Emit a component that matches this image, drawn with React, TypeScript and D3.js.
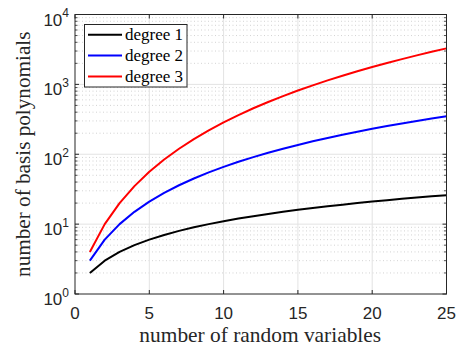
import React, { useEffect, useRef } from 'react';
import * as d3 from 'd3';

// values
const nVars = [1, 2, 3, 4, 5, 6, 7, 8, 9, 10, 11, 12, 13, 14, 15, 16, 17, 18, 19, 20, 21, 22, 23, 24, 25];
const degree1 = [2, 3, 4, 5, 6, 7, 8, 9, 10, 11, 12, 13, 14, 15, 16, 17, 18, 19, 20, 21, 22, 23, 24, 25, 26];
const degree2 = [3, 6, 10, 15, 21, 28, 36, 45, 55, 66, 78, 91, 105, 120, 136, 153, 171, 190, 210, 231, 253, 276, 300, 325, 351];
const degree3 = [4, 10, 20, 35, 56, 84, 120, 165, 220, 286, 364, 455, 560, 680, 816, 969, 1140, 1330, 1540, 1771, 2024, 2300, 2600, 2925, 3276];
const seriesNames = ['degree 1', 'degree 2', 'degree 3'];
const seriesColors = ['#000000', '#0000ff', '#ff0000'];
const xTicks = [0, 5, 10, 15, 20, 25];
const yExponents = [0, 1, 2, 3, 4];

const W = 456, H = 350;
const left = 75, right = 446.5, top = 14.5, bottom = 294;
const axisColor = '#262626';

function Chart() {
  const ref = useRef<SVGSVGElement>(null);

  useEffect(() => {
    const svg = d3.select(ref.current);
    svg.selectAll('*').remove();

    const x = d3.scaleLinear().domain([0, 25]).range([left, right]);
    const y = d3.scaleLog().domain([1, 1e4]).range([bottom, top]);

    // minor grid
    const minor: number[] = [];
    for (let e = 0; e < 4; e++) for (let k = 2; k <= 9; k++) minor.push(k * Math.pow(10, e));

    const g = svg.append('g');
    g.selectAll('.minor').data(minor).join('line')
      .attr('x1', left).attr('x2', right)
      .attr('y1', d => y(d)).attr('y2', d => y(d))
      .attr('stroke', '#c8c8c8').attr('stroke-width', 0.8)
      .attr('stroke-dasharray', '1,2.5');

    // major grid
    g.selectAll('.gx').data(xTicks.slice(1, -1)).join('line')
      .attr('x1', d => x(d)).attr('x2', d => x(d))
      .attr('y1', top).attr('y2', bottom)
      .attr('stroke', '#e3e3e3').attr('stroke-width', 1);
    g.selectAll('.gy').data(yExponents.slice(1, -1)).join('line')
      .attr('x1', left).attr('x2', right)
      .attr('y1', d => y(Math.pow(10, d))).attr('y2', d => y(Math.pow(10, d)))
      .attr('stroke', '#e3e3e3').attr('stroke-width', 1);

    // lines
    const series = [degree1, degree2, degree3];
    const line = d3.line<number>()
      .x((_, i) => x(nVars[i]))
      .y(d => y(d));
    series.forEach((s, i) => {
      svg.append('path')
        .attr('d', line(s))
        .attr('fill', 'none')
        .attr('stroke', seriesColors[i])
        .attr('stroke-width', 2)
        .attr('stroke-linejoin', 'round');
    });

    // box
    svg.append('rect')
      .attr('x', left).attr('y', top)
      .attr('width', right - left).attr('height', bottom - top)
      .attr('fill', 'none').attr('stroke', axisColor).attr('stroke-width', 1);

    // x ticks, bottom and top
    xTicks.forEach(t => {
      svg.append('line').attr('x1', x(t)).attr('x2', x(t)).attr('y1', bottom).attr('y2', bottom - 4)
        .attr('stroke', axisColor);
      svg.append('line').attr('x1', x(t)).attr('x2', x(t)).attr('y1', top).attr('y2', top + 4)
        .attr('stroke', axisColor);
      svg.append('text')
        .attr('x', x(t)).attr('y', bottom + 25)
        .attr('text-anchor', 'middle')
        .attr('font-family', 'Liberation Sans, Arial, sans-serif')
        .attr('font-size', 17)
        .attr('fill', axisColor)
        .text(t);
    });

    // y ticks major + minor, left and right
    yExponents.forEach(e => {
      const yy = y(Math.pow(10, e));
      svg.append('line').attr('x1', left).attr('x2', left + 4).attr('y1', yy).attr('y2', yy).attr('stroke', axisColor);
      svg.append('line').attr('x1', right).attr('x2', right - 4).attr('y1', yy).attr('y2', yy).attr('stroke', axisColor);
      const txt = svg.append('text')
        .attr('x', 69).attr('y', yy + 11)
        .attr('text-anchor', 'end')
        .attr('font-family', 'Liberation Sans, Arial, sans-serif')
        .attr('fill', axisColor);
      txt.append('tspan').attr('font-size', 17).text('10');
      txt.append('tspan').attr('font-size', 12).attr('dy', -8.5).text(e);
    });
    minor.forEach(m => {
      const yy = y(m);
      svg.append('line').attr('x1', left).attr('x2', left + 2.5).attr('y1', yy).attr('y2', yy).attr('stroke', axisColor).attr('stroke-width', 0.8);
      svg.append('line').attr('x1', right).attr('x2', right - 2.5).attr('y1', yy).attr('y2', yy).attr('stroke', axisColor).attr('stroke-width', 0.8);
    });

    // axis labels
    svg.append('text')
      .attr('x', (left + right) / 2 - 0.5).attr('y', 342)
      .attr('text-anchor', 'middle')
      .attr('font-family', 'Liberation Serif, Times New Roman, serif')
      .attr('font-size', 21.4)
      .attr('fill', axisColor)
      .text('number of random variables');
    svg.append('text')
      .attr('transform', `translate(29.5,${(top + bottom) / 2}) rotate(-90)`)
      .attr('text-anchor', 'middle')
      .attr('font-family', 'Liberation Serif, Times New Roman, serif')
      .attr('font-size', 21.2)
      .attr('fill', axisColor)
      .text('number of basis polynomials');

    // legend
    const lg = svg.append('g');
    lg.append('rect')
      .attr('x', 84.5).attr('y', 24.5).attr('width', 102.5).attr('height', 62.5)
      .attr('fill', '#ffffff').attr('stroke', axisColor).attr('stroke-width', 1);
    seriesNames.forEach((name, i) => {
      const yy = 34.7 + i * 20.9;
      lg.append('line').attr('x1', 88).attr('x2', 122).attr('y1', yy).attr('y2', yy)
        .attr('stroke', seriesColors[i]).attr('stroke-width', 2);
      lg.append('text')
        .attr('x', 125).attr('y', yy + 5)
        .attr('font-family', 'Liberation Serif, Times New Roman, serif')
        .attr('font-size', 17)
        .attr('fill', '#000')
        .text(name);
    });
  }, []);

  return <svg ref={ref} width={W} height={H} style={{ display: 'block' }} />;
}

export default function App() {
  return (
    <div style={{ position: 'absolute', left: 0, top: 0 }}>
      <Chart />
    </div>
  );
}
